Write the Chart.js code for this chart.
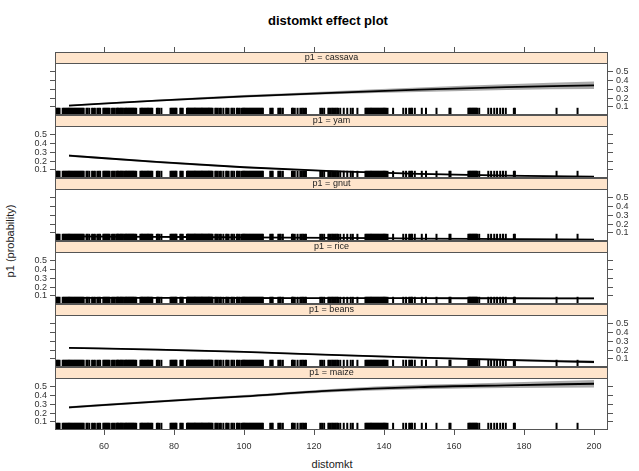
<!DOCTYPE html>
<html><head><meta charset="utf-8">
<script src="https://cdn.jsdelivr.net/npm/chart.js@4.4.0/dist/chart.umd.min.js"></script>
<style>
html,body{margin:0;padding:0;background:#fff;}
#wrap{position:relative;width:639px;height:471px;overflow:hidden;font-family:"Liberation Sans",Arial,sans-serif;}
#wrap canvas{position:absolute;left:0;top:0;}
.t{position:absolute;white-space:nowrap;color:#000;transform:translate(-50%,-50%);}
</style></head><body>
<div id="wrap">
  <div class="t" style="left:328px;top:20px;font-size:13px;font-weight:bold;">distomkt effect plot</div>
  <div class="t" style="left:332px;top:464px;font-size:11px;color:#222;">distomkt</div>
  <div class="t" style="left:10px;top:241px;font-size:11px;color:#222;transform:translate(-50%,-50%) rotate(-90deg);">p1 (probability)</div>
</div>
<script>
// ---- data ----
const panelNames = ['cassava', 'yam', 'gnut', 'rice', 'beans', 'maize'];
const distomkt = [50, 75, 100, 125, 150, 175, 200];

const cassavaFit   = [0.115, 0.170, 0.220, 0.260, 0.295, 0.325, 0.345];
const cassavaLower = [0.106, 0.160, 0.207, 0.243, 0.270, 0.292, 0.302];
const cassavaUpper = [0.125, 0.181, 0.234, 0.278, 0.320, 0.358, 0.388];

const yamFit   = [0.262, 0.190, 0.130, 0.085, 0.055, 0.035, 0.022];
const yamLower = [0.248, 0.179, 0.122, 0.078, 0.048, 0.028, 0.015];
const yamUpper = [0.276, 0.201, 0.139, 0.093, 0.063, 0.043, 0.031];

const gnutFit   = [0.060, 0.055, 0.050, 0.044, 0.036, 0.030, 0.024];
const gnutLower = [0.053, 0.049, 0.045, 0.039, 0.030, 0.023, 0.016];
const gnutUpper = [0.067, 0.061, 0.056, 0.050, 0.043, 0.038, 0.033];

const riceFit   = [0.078, 0.077, 0.076, 0.075, 0.074, 0.073, 0.072];
const riceLower = [0.071, 0.071, 0.070, 0.069, 0.067, 0.065, 0.062];
const riceUpper = [0.085, 0.083, 0.082, 0.081, 0.081, 0.082, 0.083];

const beansFit   = [0.225, 0.205, 0.180, 0.145, 0.115, 0.088, 0.065];
const beansLower = [0.214, 0.196, 0.172, 0.137, 0.105, 0.076, 0.050];
const beansUpper = [0.236, 0.214, 0.189, 0.154, 0.125, 0.100, 0.082];

const maizeFit   = [0.265, 0.330, 0.390, 0.455, 0.495, 0.515, 0.533];
const maizeLower = [0.252, 0.318, 0.377, 0.437, 0.470, 0.485, 0.490];
const maizeUpper = [0.278, 0.342, 0.404, 0.474, 0.520, 0.548, 0.575];

const rugDistomkt = [46.4,46.7,47.0,47.3,
  48.2,48.5,48.8,49.1,49.4,49.7,50.0,50.3,50.6,50.9,51.2,51.5,51.8,52.1,52.4,52.7,53.0,53.3,53.6,53.9,54.2,
  55.0,55.3,55.8,56.6,57.0,57.4,58.1,58.5,58.9,59.8,60.1,60.4,60.7,61.0,61.3,61.6,62.3,62.7,63.0,
  63.5,63.8,64.0,64.4,64.7,64.9,65.2,65.4,65.8,66.1,66.3,66.6,66.8,67.1,67.3,67.6,67.8,68.1,68.3,68.6,68.9,69.2,
  70.4,70.7,70.9,71.2,71.5,71.8,72.1,72.4,72.6,72.9,73.2,73.5,73.8,75.1,75.4,75.8,76.4,
  79.0,79.3,79.6,79.9,80.2,80.5,80.7,81.8,82.1,82.5,
  83.7,84.0,84.2,84.5,84.7,85.0,85.2,85.5,85.7,86.0,86.2,86.5,86.7,87.0,87.2,87.5,87.7,88.0,88.2,88.5,88.7,89.0,
  89.2,89.5,89.7,90.0,90.2,90.5,90.7,91.0,91.8,92.1,92.5,93.0,93.4,
  94.1,94.9,95.2,95.6,96.4,96.7,97.2,98.0,98.4,98.8,
  99.4,99.7,100.0,100.3,100.6,100.9,101.2,101.5,101.8,102.1,102.4,102.7,103.0,103.3,103.6,103.9,104.2,104.5,104.8,105.1,105.4,
  107.5,107.9,108.2,109.8,110.2,110.5,111.1,113.7,114.0,114.5,115.3,116.1,116.5,116.9,117.3,117.7,
  121.8,122.3,122.9,124.1,124.4,124.8,125.2,125.5,125.9,126.2,126.6,126.9,127.5,128.5,129.5,130.5,131.1,132.4,
  134.7,135.0,135.3,135.6,135.9,136.2,136.4,136.7,137.0,137.3,137.6,137.9,138.2,138.5,138.8,139.1,139.4,139.7,140.0,140.3,140.6,141.0,
  142.6,145.5,146.3,147.2,147.6,148.0,148.8,150.8,152.0,155.0,158.7,159.0,
  164.1,164.4,164.6,164.9,165.1,165.4,165.6,165.9,166.1,166.4,166.6,167.2,
  169.8,170.6,171.5,172.3,173.2,174.0,174.8,177.1,177.4,189.3,195.3];
const rugLevel = 0.05;

const xTicks = [60, 80, 100, 120, 140, 160, 180, 200];
const yTicks = [0.1, 0.2, 0.3, 0.4, 0.5];
const labelsOnRight = [true, false, true, false, true, false];

const fits   = [cassavaFit, yamFit, gnutFit, riceFit, beansFit, maizeFit];
const lowers = [cassavaLower, yamLower, gnutLower, riceLower, beansLower, maizeLower];
const uppers = [cassavaUpper, yamUpper, gnutUpper, riceUpper, beansUpper, maizeUpper];

// ---- drawing ----
Chart.defaults.font.family = '"Liberation Sans", Arial, sans-serif';
Chart.defaults.font.size = 9;
Chart.defaults.color = '#333';

const X_MIN = 46, X_MAX = 204, Y_MIN = 0.008, Y_MAX = 0.598;
const W = 639, H = 471;
const STRIP = 11;

const decor = {
  id: 'decor',
  afterDraw(chart, args, opts) {
    const ctx = chart.ctx, a = chart.chartArea;
    ctx.save();
    ctx.fillStyle = '#ffe5cc';
    ctx.fillRect(a.left, a.top - STRIP, a.right - a.left, STRIP);
    ctx.strokeStyle = '#555';
    ctx.lineWidth = 1;
    ctx.strokeRect(a.left + 0.5, a.top - STRIP + 0.5, a.right - a.left - 1, STRIP);
    ctx.strokeRect(a.left + 0.5, a.top + 0.5, a.right - a.left - 1, a.bottom - a.top - 1);
    ctx.fillStyle = '#222';
    ctx.font = '9px "Liberation Sans", Arial, sans-serif';
    ctx.textAlign = 'center';
    ctx.textBaseline = 'middle';
    ctx.fillText(opts.label, (a.left + a.right) / 2, a.top - STRIP / 2 + 0.5);
    if (opts.topTicks) {
      const xs = chart.scales.x;
      xTicks.forEach(v => {
        const px = Math.round(xs.getPixelForValue(v)) + 0.5;
        ctx.beginPath();
        ctx.moveTo(px, a.top - STRIP);
        ctx.lineTo(px, a.top - STRIP - 5);
        ctx.stroke();
      });
    }
    ctx.restore();
  }
};

const pts = arr => distomkt.map((x, k) => ({ x: x, y: arr[k] }));
const wrap = document.getElementById('wrap');

panelNames.forEach((name, i) => {
  const canvas = document.createElement('canvas');
  canvas.width = W; canvas.height = H;
  canvas.style.width = W + 'px'; canvas.style.height = H + 'px';
  wrap.appendChild(canvas);
  const top = 63 + 63 * i, bottom = 115 + 63 * i;
  const isBottom = i === panelNames.length - 1;
  const right = labelsOnRight[i];
  const yCommon = {
    type: 'linear', min: Y_MIN, max: Y_MAX,
    afterBuildTicks: s => { s.ticks = yTicks.map(v => ({ value: v })); },
    grid: { drawOnChartArea: false, tickLength: 5, color: '#555' },
    border: { display: false }
  };
  const xScale = {
    type: 'linear', min: X_MIN, max: X_MAX, display: isBottom,
    afterBuildTicks: s => { s.ticks = xTicks.map(v => ({ value: v })); },
    grid: { drawOnChartArea: false, tickLength: 5, color: '#555' },
    border: { display: false },
    ticks: { autoSkip: false, maxRotation: 0, padding: 6, color: '#333', callback: v => String(v) }
  };
  if (isBottom) xScale.afterFit = s => { s.height = H - bottom; };
  new Chart(canvas, {
    type: 'line',
    data: {
      datasets: [
        { order: 3, data: pts(lowers[i]), borderWidth: 0, borderColor: 'rgba(0,0,0,0)', pointRadius: 0, fill: false, cubicInterpolationMode: 'monotone' },
        { order: 2, data: pts(uppers[i]), borderWidth: 0, borderColor: 'rgba(0,0,0,0)', pointRadius: 0, fill: '-1', backgroundColor: 'rgba(150,150,150,0.8)', cubicInterpolationMode: 'monotone' },
        { order: 1, data: pts(fits[i]), borderColor: '#000', borderWidth: 1.8, pointRadius: 0, fill: false, cubicInterpolationMode: 'monotone' },
        { order: 0, data: rugDistomkt.map(x => ({ x: x, y: rugLevel })), showLine: false, pointStyle: 'line', rotation: 90,
          pointRadius: 3.5, pointBorderColor: '#000', pointBackgroundColor: '#000', pointBorderWidth: 2, fill: false }
      ]
    },
    options: {
      responsive: false, animation: false, events: [],
      layout: { padding: { left: 0, right: 0, top: top, bottom: isBottom ? 0 : H - bottom } },
      plugins: { legend: { display: false }, tooltip: { enabled: false }, title: { display: false },
        decor: { label: 'p1 = ' + name, topTicks: i === 0 } },
      scales: {
        x: xScale,
        y: Object.assign({}, yCommon, { position: 'left', afterFit: s => { s.width = 55; },
          ticks: { autoSkip: false, padding: 3, color: '#333', callback: v => right ? '' : v.toFixed(1) } }),
        y2: Object.assign({}, yCommon, { position: 'right', afterFit: s => { s.width = W - 608; },
          ticks: { autoSkip: false, padding: 3, color: '#333', callback: v => right ? v.toFixed(1) : '' } })
      }
    },
    plugins: [decor]
  });
});
</script>
</body></html>
